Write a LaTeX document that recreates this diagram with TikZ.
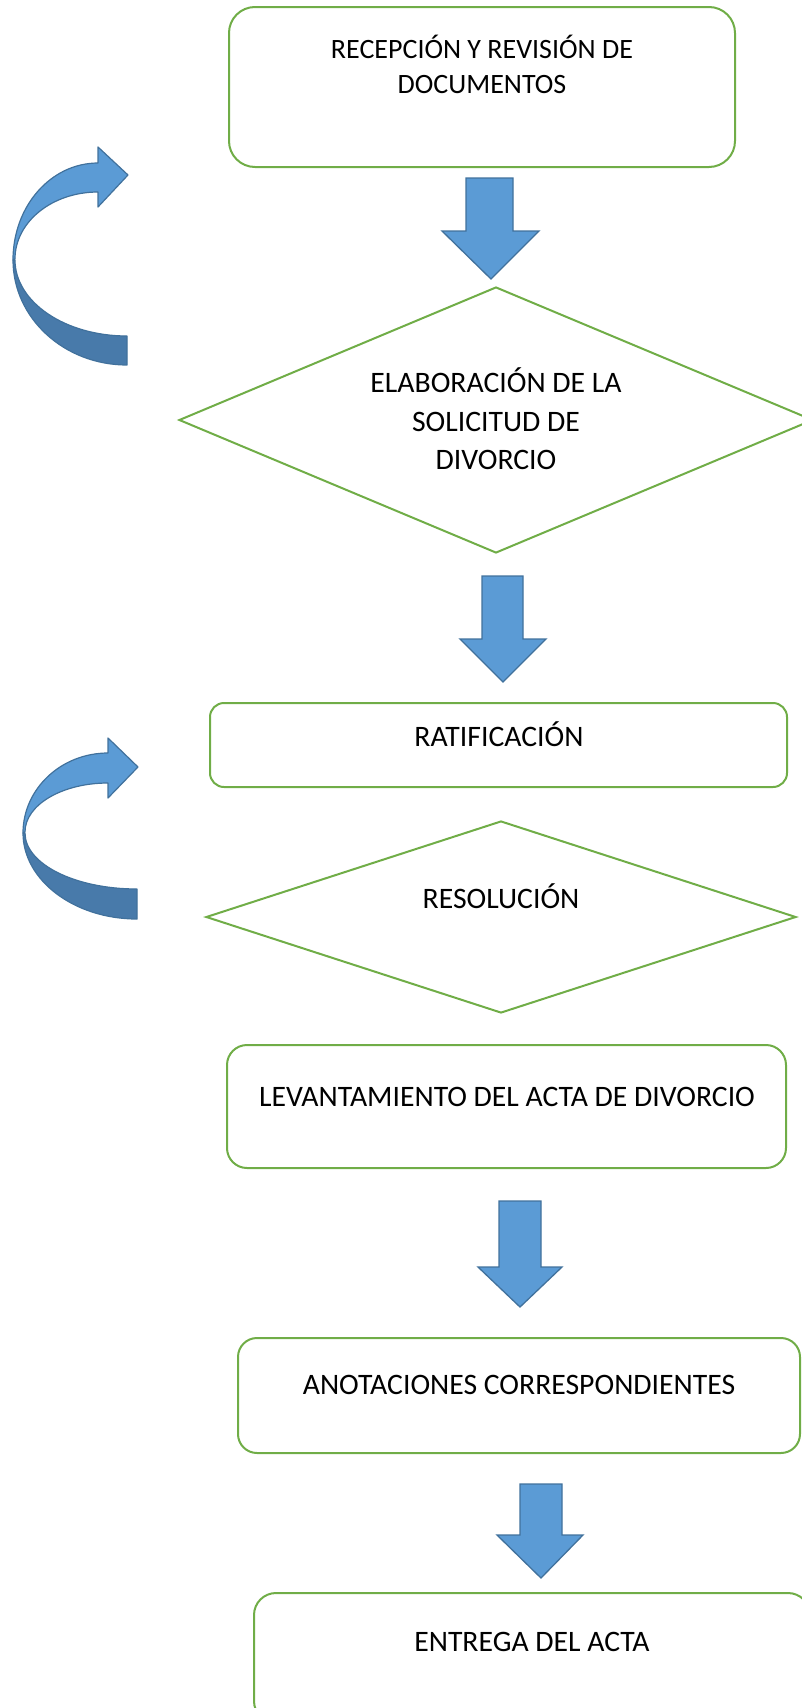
\documentclass[tikz,border=0pt]{standalone}
\usepackage{fontspec}
\setmainfont{Carlito}
\usetikzlibrary{shapes.geometric}
\definecolor{verde}{RGB}{112,173,71}
\definecolor{azul}{RGB}{91,155,213}
\definecolor{azulborde}{RGB}{65,113,156}
\definecolor{azuloscuro}{RGB}{72,122,170}

\begin{document}
\begin{tikzpicture}[x=1pt, y=-1pt,
	caja/.style={draw=verde, line width=2pt, rectangle, inner sep=0pt},
	rombo/.style={draw=verde, line width=2pt, diamond, inner sep=0pt},
	texto/.style={anchor=base, inner sep=0pt, font=\fontsize{29.7}{36}\selectfont},
	bloque/.style={draw=azulborde, fill=azul, line width=1.3pt},
	frente/.style={draw=azulborde, fill=azul, line width=1.2pt, line join=round},
	dorso/.style={draw=azulborde, fill=azuloscuro, line width=1.2pt, line join=round}]

	\useasboundingbox (0,0) rectangle (802,1708);
	\clip (0,0) rectangle (802,1708);

	% cajas y rombos
	\node[caja, rounded corners=26pt, minimum width=506pt, minimum height=160pt] (recepcion) at (482,87) {};
	\node[rombo, minimum width=634pt, minimum height=266pt] (elaboracion) at (496,420) {};
	\node[caja, rounded corners=14pt, minimum width=577pt, minimum height=84pt] (ratificacion) at (498.5,745) {};
	\node[rombo, minimum width=590pt, minimum height=192pt] (resolucion) at (501,917) {};
	\node[caja, rounded corners=20pt, minimum width=559pt, minimum height=123pt] (levantamiento) at (506.5,1106.5) {};
	\node[caja, rounded corners=19pt, minimum width=562pt, minimum height=115pt] (anotaciones) at (519,1395.5) {};
	\node[caja, rounded corners=22pt, minimum width=556pt, minimum height=130pt] (entrega) at (532,1658) {};

	% textos
	\node[texto, font=\fontsize{28}{34}\selectfont] (recepcion-a) at (482,58) {RECEPCIÓN Y REVISIÓN DE};
	\node[texto, font=\fontsize{28}{34}\selectfont] (recepcion-b) at (482,93) {DOCUMENTOS};
	\node[texto] (elaboracion-a) at (496,392) {ELABORACIÓN DE LA};
	\node[texto] (elaboracion-b) at (496,431) {SOLICITUD DE};
	\node[texto] (elaboracion-c) at (496,469) {DIVORCIO};
	\node[texto] (ratificacion-t) at (499,746) {RATIFICACIÓN};
	\node[texto] (resolucion-t) at (501,908) {RESOLUCIÓN};
	\node[texto] (levantamiento-t) at (507,1106) {LEVANTAMIENTO DEL ACTA DE DIVORCIO};
	\node[texto] (anotaciones-t) at (519,1394) {ANOTACIONES CORRESPONDIENTES};
	\node[texto] (entrega-t) at (532,1651) {ENTREGA DEL ACTA};

	% flechas de bloque
	\draw[bloque] (466,178) -- (513,178) -- (513,231) -- (539,231) -- (491,279) -- (442,231) -- (466,231) -- cycle;
	\draw[bloque] (482,576) -- (523,576) -- (523,639) -- (546,639) -- (503,682) -- (460,639) -- (482,639) -- cycle;
	\draw[bloque] (499,1201) -- (541,1201) -- (541,1267) -- (562,1267) -- (520,1307) -- (478,1267) -- (499,1267) -- cycle;
	\draw[bloque] (520,1484) -- (562,1484) -- (562,1535) -- (583,1535) -- (541,1578) -- (497,1535) -- (520,1535) -- cycle;

	% flechas curvas
	\draw[dorso] (13,260) .. controls (13,318) and (64,365) .. (127,365) -- (127,336)
		.. controls (65,336) and (15,302) .. (15,260) -- cycle;
	\draw[frente] (13,260) .. controls (13,206) and (51,163) .. (98,163) -- (98,147) -- (128,175)
		-- (98,207) -- (98,192) .. controls (52,192) and (15,222) .. (15,259) -- cycle;

	\draw[dorso] (23,833) .. controls (23,880) and (74,919) .. (137,919) -- (137,889)
		.. controls (75,889) and (25,864) .. (25,833) -- cycle;
	\draw[frente] (23,833) .. controls (23,789) and (61,753) .. (108,753) -- (108,738) -- (138,767)
		-- (108,798) -- (108,783) .. controls (62,783) and (25,805) .. (25,832) -- cycle;

\end{tikzpicture}
\end{document}
